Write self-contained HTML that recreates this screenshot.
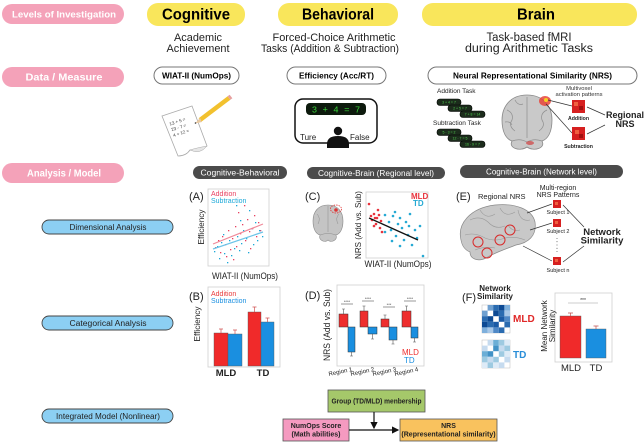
<!DOCTYPE html>
<html><head><meta charset="utf-8">
<style>
html,body{margin:0;padding:0;background:#fff;}
svg{display:block;font-family:"Liberation Sans",Arial,sans-serif;}
</style></head><body>
<svg width="644" height="443" viewBox="0 0 644 443" xmlns="http://www.w3.org/2000/svg">
<defs>
<marker id="ah" markerWidth="6" markerHeight="6" refX="5" refY="3" orient="auto"><path d="M0,0 L6,3 L0,6 Z" fill="#111"/></marker>
</defs>
<rect width="644" height="443" fill="#fff"/>

<!-- Left pink labels -->
<rect x="2" y="4" width="122" height="20" rx="10" fill="#f4a2b9"/>
<text x="64" y="17.5" text-anchor="middle" fill="#fff" font-weight="bold" font-size="9.5" textLength="104" lengthAdjust="spacingAndGlyphs">Levels of Investigation</text>
<rect x="2" y="67" width="122" height="20" rx="10" fill="#f4a2b9"/>
<text x="64" y="80.5" text-anchor="middle" fill="#fff" font-weight="bold" font-size="10" textLength="77" lengthAdjust="spacingAndGlyphs">Data / Measure</text>
<rect x="2" y="163" width="122" height="20" rx="10" fill="#f4a2b9"/>
<text x="64" y="176.5" text-anchor="middle" fill="#fff" font-weight="bold" font-size="10" textLength="74" lengthAdjust="spacingAndGlyphs">Analysis / Model</text>

<!-- Yellow headers -->
<rect x="147" y="3" width="98" height="23" rx="11" fill="#f9e65b"/>
<text x="196" y="19.5" text-anchor="middle" font-weight="bold" font-size="16" textLength="68" lengthAdjust="spacingAndGlyphs">Cognitive</text>
<rect x="278" y="3" width="120" height="23" rx="11" fill="#f9e65b"/>
<text x="338" y="19.5" text-anchor="middle" font-weight="bold" font-size="16" textLength="72" lengthAdjust="spacingAndGlyphs">Behavioral</text>
<rect x="422" y="3" width="215" height="23" rx="11" fill="#f9e65b"/>
<text x="536" y="19.5" text-anchor="middle" font-weight="bold" font-size="16" textLength="38" lengthAdjust="spacingAndGlyphs">Brain</text>

<!-- Subtitles -->
<g font-size="11" fill="#222" text-anchor="middle">
<text x="198" y="41" textLength="48" lengthAdjust="spacingAndGlyphs">Academic</text>
<text x="198" y="52" textLength="63" lengthAdjust="spacingAndGlyphs">Achievement</text>
<text x="334" y="41" textLength="123" lengthAdjust="spacingAndGlyphs">Forced-Choice Arithmetic</text>
<text x="330" y="52" textLength="138" lengthAdjust="spacingAndGlyphs">Tasks (Addition &amp; Subtraction)</text>
<text x="529" y="41" font-size="11.5" textLength="85" lengthAdjust="spacingAndGlyphs">Task-based fMRI</text>
<text x="529" y="52" font-size="11.5" textLength="128" lengthAdjust="spacingAndGlyphs">during Arithmetic Tasks</text>
</g>

<!-- Measure outline pills -->
<rect x="154" y="67" width="85" height="17" rx="8.5" fill="#fff" stroke="#777" stroke-width="1"/>
<text x="196.5" y="78.5" text-anchor="middle" font-weight="bold" font-size="8.5" textLength="69" lengthAdjust="spacingAndGlyphs">WIAT-II (NumOps)</text>
<rect x="287" y="67" width="99" height="17" rx="8.5" fill="#fff" stroke="#777" stroke-width="1"/>
<text x="336.5" y="78.5" text-anchor="middle" font-weight="bold" font-size="8.5" textLength="75" lengthAdjust="spacingAndGlyphs">Efficiency (Acc/RT)</text>
<rect x="428" y="67" width="209" height="17" rx="8.5" fill="#fff" stroke="#777" stroke-width="1"/>
<text x="532.5" y="78.5" text-anchor="middle" font-weight="bold" font-size="8.5" textLength="159" lengthAdjust="spacingAndGlyphs">Neural Representational Similarity (NRS)</text>

<!-- Paper & pencil -->
<path d="M162,116 L192,106 L207,146 Q200,152 190,150 Q186,156 178,156 Z" fill="#fff" stroke="#aaa" stroke-width="0.8"/>
<path d="M190,150 Q196,148 207,146 Q200,155 190,150Z" fill="#e6e6e6" stroke="#aaa" stroke-width="0.5"/>
<g font-size="4.5" fill="#333" transform="rotate(-18 175 125)">
<text x="170" y="124">13 + 5 =</text>
<text x="170" y="130">23 - 7 =</text>
<text x="170" y="136">4 + 12 =</text>
</g>
<line x1="229" y1="98" x2="200" y2="120" stroke="#f2c12e" stroke-width="4.5" stroke-linecap="butt"/>
<line x1="229" y1="98" x2="231" y2="96.5" stroke="#e7a0a0" stroke-width="4.5"/>
<path d="M200,118 L202,122 L195,123.5 Z" fill="#e9c9a0"/>
<circle cx="195.5" cy="123" r="0.8" fill="#333"/>

<!-- Screen icon -->
<rect x="295" y="99" width="82" height="44" rx="8" fill="#fff" stroke="#111" stroke-width="1.5"/>
<rect x="306" y="103" width="60" height="12" rx="4" fill="#0d1a0d"/>
<text x="336" y="112.5" text-anchor="middle" font-size="9" fill="#39d339" font-family="Liberation Mono, monospace">3 + 4 = 7</text>
<text x="300" y="140" font-size="8" fill="#222">Ture</text>
<text x="350" y="140" font-size="8" fill="#222">False</text>
<circle cx="338" cy="131" r="4.2" fill="#111"/>
<path d="M327,148 L327,144 Q327,136 338,136 Q349,136 349,144 L349,148 Z" fill="#111"/>

<!-- Top-right brain task area -->
<text x="437" y="93" font-size="6.5" fill="#222">Addition Task</text>
<g stroke="#000" stroke-width="0.6" fill="#1c2c1c">
<rect x="437" y="99" width="24" height="6.5" rx="3"/>
<rect x="448" y="105" width="24" height="6.5" rx="3"/>
<rect x="460" y="111" width="25" height="6.5" rx="3"/>
<rect x="437" y="129" width="24" height="6.5" rx="3"/>
<rect x="448" y="135" width="24" height="6.5" rx="3"/>
<rect x="460" y="141" width="25" height="6.5" rx="3"/>
</g>
<g font-size="3.5" fill="#4fd04f" text-anchor="middle">
<text x="449" y="103.5">3 + 4 = 7</text><text x="460" y="109.5">2 + 5 = 7</text><text x="472.5" y="115.5">7 + 8 = 14</text>
<text x="449" y="133.5">5 - 3 = 2</text><text x="460" y="139.5">12 - 7 = 5</text><text x="472.5" y="145.5">16 - 9 = 7</text>
</g>
<text x="433" y="125" font-size="6.5" fill="#222">Subtraction Task</text>

<path d="M527,95 C510,95 502,107 502,120 C502,132 506,139 512,141 C508,148 520,152 527,147 C534,152 546,148 542,141 C548,139 552,132 552,120 C552,107 544,95 527,95Z" fill="#c9c9c9" stroke="#8a8a8a" stroke-width="0.8"/>
<g fill="none" stroke="#8f8f8f" stroke-width="0.7">
<path d="M527,97 L527,138"/><path d="M507,110 Q514,113 512,120 Q508,126 515,131"/><path d="M547,110 Q540,113 542,120 Q546,126 539,131"/>
<path d="M512,141 Q520,138 527,142 Q534,138 542,141"/><path d="M515,100 Q518,106 523,104"/><path d="M505,122 Q510,121 512,125"/>
</g>
<ellipse cx="545" cy="101" rx="6" ry="5" fill="#e8443a" opacity="0.85"/>
<circle cx="546" cy="100" r="2" fill="#f5d020"/>
<ellipse cx="530" cy="143" rx="4" ry="2" fill="#d04040" opacity="0.7"/>
<text x="579" y="90" text-anchor="middle" font-size="5.8" fill="#333">Multivoxel</text>
<text x="579" y="96" text-anchor="middle" font-size="5.8" fill="#333">activation patterns</text>
<line x1="548" y1="100" x2="572" y2="106" stroke="#333" stroke-width="0.7"/>
<line x1="546" y1="104" x2="572" y2="133" stroke="#333" stroke-width="0.7"/>
<rect x="572" y="100" width="13" height="13" fill="#d62020"/>
<rect x="574" y="102" width="4" height="4" fill="#f06040"/><rect x="579" y="106" width="4" height="4" fill="#a01010"/>
<rect x="572" y="127" width="13" height="13" fill="#d62020"/>
<rect x="575" y="130" width="4" height="4" fill="#f06040"/><rect x="579" y="134" width="4" height="4" fill="#a01010"/>
<text x="578.5" y="120" text-anchor="middle" font-size="5.2" font-weight="bold" fill="#222">Addition</text>
<text x="578.5" y="148" text-anchor="middle" font-size="5.2" font-weight="bold" fill="#222">Subtraction</text>
<line x1="587" y1="107" x2="605" y2="115" stroke="#333" stroke-width="0.7"/>
<line x1="587" y1="134" x2="605" y2="125" stroke="#333" stroke-width="0.7"/>
<text x="625" y="118" text-anchor="middle" font-size="9" font-weight="bold" fill="#222">Regional</text>
<text x="625" y="127" text-anchor="middle" font-size="9" font-weight="bold" fill="#222">NRS</text>

<!-- Dark analysis pills -->
<rect x="193" y="166" width="94" height="13" rx="6.5" fill="#4b4b4b"/>
<text x="240" y="175.5" text-anchor="middle" font-size="8" fill="#fff" textLength="79" lengthAdjust="spacingAndGlyphs">Cognitive-Behavioral</text>
<rect x="307" y="167" width="138" height="12" rx="6" fill="#4b4b4b"/>
<text x="376" y="176" text-anchor="middle" font-size="8" fill="#fff" textLength="116" lengthAdjust="spacingAndGlyphs">Cognitive-Brain (Regional level)</text>
<rect x="460" y="165" width="163" height="13" rx="6.5" fill="#4b4b4b"/>
<text x="541.5" y="174.5" text-anchor="middle" font-size="8" fill="#fff" textLength="111" lengthAdjust="spacingAndGlyphs">Cognitive-Brain (Network level)</text>

<!-- Blue analysis pills -->
<rect x="42" y="220" width="131" height="14" rx="7" fill="#8ccff3" stroke="#444" stroke-width="0.9"/>
<text x="108" y="230" text-anchor="middle" font-size="8" fill="#222" textLength="77" lengthAdjust="spacingAndGlyphs">Dimensional Analysis</text>
<rect x="42" y="316" width="131" height="14" rx="7" fill="#8ccff3" stroke="#444" stroke-width="0.9"/>
<text x="108" y="326" text-anchor="middle" font-size="8" fill="#222" textLength="77" lengthAdjust="spacingAndGlyphs">Categorical Analysis</text>
<rect x="42" y="409" width="131" height="14" rx="7" fill="#8ccff3" stroke="#444" stroke-width="0.9"/>
<text x="108" y="419" text-anchor="middle" font-size="8" fill="#222" textLength="104" lengthAdjust="spacingAndGlyphs">Integrated Model (Nonlinear)</text>

<!-- Panel A -->
<text x="189" y="200" font-size="11" fill="#222">(A)</text>
<rect x="208" y="189" width="61" height="77" fill="#fff" stroke="#cfcfcf" stroke-width="0.8"/>
<text x="211" y="196" font-size="7" fill="#e84060">Addition</text>
<text x="211" y="203" font-size="7" fill="#1ba8d8">Subtraction</text>
<text transform="translate(204,227) rotate(-90)" text-anchor="middle" font-size="8.5" fill="#222" textLength="35" lengthAdjust="spacingAndGlyphs">Efficiency</text>
<text x="245" y="279" text-anchor="middle" font-size="9" fill="#222" textLength="66" lengthAdjust="spacingAndGlyphs">WIAT-II (NumOps)</text>
<g fill="#e84060">
<rect x="215" y="247" width="1.3" height="1.3"/><rect x="218" y="240" width="1.3" height="1.3"/><rect x="220" y="252" width="1.3" height="1.3"/><rect x="222" y="236" width="1.3" height="1.3"/><rect x="225" y="244" width="1.3" height="1.3"/><rect x="228" y="230" width="1.3" height="1.3"/><rect x="230" y="249" width="1.3" height="1.3"/><rect x="232" y="238" width="1.3" height="1.3"/><rect x="235" y="226" width="1.3" height="1.3"/><rect x="236" y="246" width="1.3" height="1.3"/><rect x="240" y="233" width="1.3" height="1.3"/><rect x="242" y="224" width="1.3" height="1.3"/><rect x="245" y="240" width="1.3" height="1.3"/><rect x="247" y="219" width="1.3" height="1.3"/><rect x="249" y="231" width="1.3" height="1.3"/><rect x="252" y="228" width="1.3" height="1.3"/><rect x="254" y="215" width="1.3" height="1.3"/><rect x="256" y="236" width="1.3" height="1.3"/><rect x="258" y="222" width="1.3" height="1.3"/><rect x="260" y="230" width="1.3" height="1.3"/><rect x="226" y="256" width="1.3" height="1.3"/><rect x="233" y="259" width="1.3" height="1.3"/><rect x="238" y="212" width="1.3" height="1.3"/><rect x="244" y="205" width="1.3" height="1.3"/><rect x="250" y="248" width="1.3" height="1.3"/>
</g>
<g fill="#1ba8d8">
<rect x="214" y="251" width="1.3" height="1.3"/><rect x="217" y="246" width="1.3" height="1.3"/><rect x="219" y="258" width="1.3" height="1.3"/><rect x="221" y="242" width="1.3" height="1.3"/><rect x="224" y="253" width="1.3" height="1.3"/><rect x="227" y="262" width="1.3" height="1.3"/><rect x="229" y="240" width="1.3" height="1.3"/><rect x="231" y="255" width="1.3" height="1.3"/><rect x="234" y="248" width="1.3" height="1.3"/><rect x="237" y="236" width="1.3" height="1.3"/><rect x="239" y="250" width="1.3" height="1.3"/><rect x="241" y="243" width="1.3" height="1.3"/><rect x="243" y="230" width="1.3" height="1.3"/><rect x="246" y="238" width="1.3" height="1.3"/><rect x="248" y="252" width="1.3" height="1.3"/><rect x="251" y="228" width="1.3" height="1.3"/><rect x="253" y="244" width="1.3" height="1.3"/><rect x="255" y="222" width="1.3" height="1.3"/><rect x="257" y="240" width="1.3" height="1.3"/><rect x="259" y="230" width="1.3" height="1.3"/><rect x="262" y="236" width="1.3" height="1.3"/><rect x="236" y="205" width="1.3" height="1.3"/><rect x="249" y="210" width="1.3" height="1.3"/><rect x="223" y="234" width="1.3" height="1.3"/><rect x="240" y="220" width="1.3" height="1.3"/>
</g>
<line x1="213" y1="244" x2="263" y2="224" stroke="#f08a9a" stroke-width="1.2"/>
<line x1="213" y1="249" x2="263" y2="232" stroke="#6cc4e8" stroke-width="1.2"/>

<!-- Panel B -->
<text x="189" y="300" font-size="11" fill="#222">(B)</text>
<rect x="208" y="287" width="72" height="80" fill="#fff" stroke="#cfcfcf" stroke-width="0.8"/>
<text x="211" y="296" font-size="7" fill="#e83a3a">Addition</text>
<text x="211" y="303" font-size="7" fill="#1a8fe0">Subtraction</text>
<text transform="translate(200,324) rotate(-90)" text-anchor="middle" font-size="8.5" fill="#222" textLength="35" lengthAdjust="spacingAndGlyphs">Efficiency</text>
<rect x="214" y="333" width="14" height="33" fill="#f02a2a" stroke="#555" stroke-width="0.4"/>
<rect x="228" y="334" width="14" height="32" fill="#1a8fe0" stroke="#555" stroke-width="0.4"/>
<rect x="248" y="312" width="13" height="54" fill="#f02a2a" stroke="#555" stroke-width="0.4"/>
<rect x="261" y="322" width="13" height="44" fill="#1a8fe0" stroke="#555" stroke-width="0.4"/>
<g stroke="#d05050" stroke-width="0.7" fill="none">
<path d="M221,333 V329 M219,329 H223"/><path d="M235,334 V330 M233,330 H237"/><path d="M254.5,312 V307 M252.5,307 H256.5"/><path d="M267.5,322 V318 M265.5,318 H269.5"/>
</g>
<text x="226" y="376" text-anchor="middle" font-size="9.5" font-weight="bold" fill="#222">MLD</text>
<text x="263" y="376" text-anchor="middle" font-size="9.5" font-weight="bold" fill="#222">TD</text>

<!-- Panel C -->
<text x="305" y="200" font-size="11" fill="#222">(C)</text>
<path d="M328,205 C318,205 313,212 313,221 C313,229 316,234 320,235 C318,241 326,243 328,240 C330,243 338,241 336,235 C340,234 343,229 343,221 C343,212 338,205 328,205Z" fill="#c4c4c4" stroke="#888" stroke-width="0.6"/>
<g fill="none" stroke="#8e8e8e" stroke-width="0.5"><path d="M328,206 V232"/><path d="M317,214 Q321,218 318,224"/><path d="M339,214 Q335,218 338,224"/><path d="M320,235 Q328,232 336,235"/></g>
<ellipse cx="336" cy="209" rx="5.5" ry="4" fill="none" stroke="#e03030" stroke-width="0.8" stroke-dasharray="1.5,1"/>
<circle cx="336" cy="210" r="1.8" fill="#d33"/>
<rect x="366" y="192" width="62" height="66" fill="#fff" stroke="#cfcfcf" stroke-width="0.8"/>
<text transform="translate(361,225) rotate(-90)" text-anchor="middle" font-size="8.5" fill="#222" textLength="68" lengthAdjust="spacingAndGlyphs">NRS (Add vs. Sub)</text>
<text x="398" y="267" text-anchor="middle" font-size="9" fill="#222" textLength="67" lengthAdjust="spacingAndGlyphs">WIAT-II (NumOps)</text>
<text x="411" y="199" font-size="8" font-weight="bold" fill="#e8323c">MLD</text>
<text x="413" y="206" font-size="8" font-weight="bold" fill="#25a9d3">TD</text>
<g fill="#e8323c">
<circle cx="369" cy="204" r="1.3"/><circle cx="371" cy="216" r="1.3"/><circle cx="372" cy="220" r="1.3"/><circle cx="374" cy="214" r="1.3"/><circle cx="375" cy="218" r="1.3"/><circle cx="376" cy="224" r="1.3"/><circle cx="377" cy="218" r="1.3"/><circle cx="379" cy="215" r="1.3"/><circle cx="380" cy="228" r="1.3"/><circle cx="381" cy="221" r="1.3"/><circle cx="382" cy="232" r="1.3"/><circle cx="378" cy="210" r="1.3"/><circle cx="374" cy="226" r="1.3"/>
</g>
<g fill="#25a9d3">
<circle cx="385" cy="215" r="1.3"/><circle cx="389" cy="222" r="1.3"/><circle cx="391" cy="230" r="1.3"/><circle cx="393" cy="216" r="1.3"/><circle cx="396" cy="236" r="1.3"/><circle cx="398" cy="224" r="1.3"/><circle cx="400" cy="218" r="1.3"/><circle cx="402" cy="228" r="1.3"/><circle cx="404" cy="240" r="1.3"/><circle cx="406" cy="222" r="1.3"/><circle cx="408" cy="235" r="1.3"/><circle cx="410" cy="214" r="1.3"/><circle cx="412" cy="245" r="1.3"/><circle cx="415" cy="230" r="1.3"/><circle cx="417" cy="238" r="1.3"/><circle cx="420" cy="226" r="1.3"/><circle cx="423" cy="256" r="1.3"/><circle cx="392" cy="241" r="1.3"/><circle cx="400" cy="246" r="1.3"/><circle cx="395" cy="212" r="1.3"/><circle cx="385" cy="232" r="1.3"/><circle cx="409" cy="226" r="1.3"/>
</g>
<line x1="369" y1="218" x2="418" y2="240" stroke="#111" stroke-width="1.3"/>

<!-- Panel D -->
<text x="305" y="299" font-size="11" fill="#222">(D)</text>
<rect x="337" y="285" width="87" height="81" fill="#fff" stroke="#cfcfcf" stroke-width="0.8"/>
<text transform="translate(330,325) rotate(-90)" text-anchor="middle" font-size="9" fill="#222" textLength="72" lengthAdjust="spacingAndGlyphs">NRS (Add vs. Sub)</text>
<g stroke="#333" stroke-width="0.5">
<rect x="339" y="314" width="9" height="13" fill="#ee2e2e"/><rect x="348" y="327" width="7" height="25" fill="#1a8fe0"/>
<rect x="360" y="311" width="8" height="16" fill="#ee2e2e"/><rect x="368" y="327" width="9" height="7" fill="#1a8fe0"/>
<rect x="381" y="319" width="8" height="8" fill="#ee2e2e"/><rect x="389" y="327" width="8" height="13" fill="#1a8fe0"/>
<rect x="402" y="311" width="9" height="16" fill="#ee2e2e"/><rect x="411" y="327" width="7" height="11" fill="#1a8fe0"/>
</g>
<g stroke="#555" stroke-width="0.6" fill="none">
<path d="M343.5,314 V309 M342,309 H345"/><path d="M351.5,352 V356 M350,356 H353"/>
<path d="M364,311 V306 M362.5,306 H365.5"/><path d="M372.5,334 V339 M371,339 H374"/>
<path d="M385,319 V315 M383.5,315 H386.5"/><path d="M393,340 V344 M391.5,344 H394.5"/>
<path d="M406.5,311 V306 M405,306 H408"/><path d="M414.5,338 V342 M413,342 H416"/>
<path d="M341,304 H353"/><path d="M362,301 H374"/><path d="M383,307 H395"/><path d="M404,301 H416"/>
</g>
<g font-size="4" fill="#333" text-anchor="middle">
<text x="347" y="303">****</text><text x="368" y="300">****</text><text x="389" y="306">***</text><text x="410" y="300">****</text>
</g>
<text x="402" y="355" font-size="8" fill="#ee2e2e">MLD</text>
<text x="404" y="363" font-size="8" fill="#1a8fe0">TD</text>
<g font-size="6" fill="#222">
<text transform="translate(329,376) rotate(-12)">Region 1</text>
<text transform="translate(351,376) rotate(-12)">Region 2</text>
<text transform="translate(373,376) rotate(-12)">Region 3</text>
<text transform="translate(395,376) rotate(-12)">Region 4</text>
</g>

<!-- Panel E -->
<text x="456" y="200" font-size="11" fill="#222">(E)</text>
<text x="478" y="199" font-size="7.5" fill="#222">Regional NRS</text>
<path d="M461,240 C457,224 470,208 495,205 C515,203 532,209 535,222 C537,236 528,243 516,245 C506,249 496,252 486,258 C478,262 470,259 470,252 C465,250 462,246 461,240Z" fill="#c8c8c8" stroke="#8a8a8a" stroke-width="0.7"/>
<g fill="none" stroke="#9a9a9a" stroke-width="0.6">
<path d="M470,220 Q480,215 488,222 Q495,230 505,226"/><path d="M480,210 Q486,220 495,214"/><path d="M500,208 Q505,218 515,212"/><path d="M518,210 Q520,222 530,220"/>
<path d="M465,235 Q475,232 485,238 Q495,242 505,238 Q515,236 525,240"/><path d="M475,250 Q485,246 495,248"/><path d="M508,225 Q512,232 520,230"/>
</g>
<g fill="none" stroke="#d82a2a" stroke-width="1">
<circle cx="478" cy="242" r="5"/><circle cx="500" cy="240" r="5"/><circle cx="510" cy="230" r="5"/><circle cx="487" cy="253" r="5"/>
</g>
<text x="558" y="190" text-anchor="middle" font-size="7" fill="#222">Multi-region</text>
<text x="558" y="197" text-anchor="middle" font-size="7" fill="#222">NRS Patterns</text>
<line x1="527" y1="213" x2="552" y2="204" stroke="#333" stroke-width="0.7"/>
<line x1="530" y1="230" x2="552" y2="223" stroke="#333" stroke-width="0.7"/>
<line x1="523" y1="246" x2="552" y2="261" stroke="#333" stroke-width="0.7"/>
<rect x="553" y="200" width="8" height="8" fill="#d62020"/><rect x="555" y="202" width="3" height="3" fill="#f06040"/>
<rect x="553" y="219" width="8" height="8" fill="#d62020"/><rect x="555" y="221" width="3" height="3" fill="#f06040"/>
<rect x="553" y="257" width="8" height="8" fill="#d62020"/><rect x="555" y="259" width="3" height="3" fill="#f06040"/>
<g font-size="5.5" fill="#222" text-anchor="middle">
<text x="558" y="214">Subject 1</text><text x="558" y="233">Subject 2</text><text x="558" y="272">Subject n</text>
</g>
<line x1="557" y1="238" x2="557" y2="253" stroke="#333" stroke-width="0.8" stroke-dasharray="0.8,2.5"/>
<line x1="563" y1="205" x2="584" y2="227" stroke="#333" stroke-width="0.7"/>
<line x1="563" y1="262" x2="584" y2="246" stroke="#333" stroke-width="0.7"/>
<text x="602" y="235" text-anchor="middle" font-size="9.5" font-weight="bold" fill="#222">Network</text>
<text x="602" y="243.5" text-anchor="middle" font-size="9.5" font-weight="bold" fill="#222">Similarity</text>

<!-- Panel F -->
<text x="462" y="301" font-size="11" fill="#222">(F)</text>
<text x="495" y="291" text-anchor="middle" font-size="8" font-weight="bold" fill="#222">Network</text>
<text x="495" y="299" text-anchor="middle" font-size="8" font-weight="bold" fill="#222">Similarity</text>
<g>
<rect x="482" y="305" width="28" height="28" fill="#fff" stroke="#bbb" stroke-width="0.5"/>
<rect x="487.6" y="305" width="5.6" height="5.6" fill="#6fa0d0"/><rect x="493.2" y="305" width="5.6" height="5.6" fill="#2a6bb0"/><rect x="498.8" y="305" width="5.6" height="5.6" fill="#0d4a94"/><rect x="504.4" y="305" width="5.6" height="5.6" fill="#7fb0dc"/>
<rect x="482" y="310.6" width="5.6" height="5.6" fill="#6fa0d0"/><rect x="493.2" y="310.6" width="5.6" height="5.6" fill="#0d4a94"/><rect x="498.8" y="310.6" width="5.6" height="5.6" fill="#2a6bb0"/><rect x="504.4" y="310.6" width="5.6" height="5.6" fill="#a8c8e8"/>
<rect x="482" y="316.2" width="5.6" height="5.6" fill="#2a6bb0"/><rect x="487.6" y="316.2" width="5.6" height="5.6" fill="#0d4a94"/><rect x="498.8" y="316.2" width="5.6" height="5.6" fill="#1a5aa5"/><rect x="504.4" y="316.2" width="5.6" height="5.6" fill="#4f88c6"/>
<rect x="482" y="321.8" width="5.6" height="5.6" fill="#0d4a94"/><rect x="487.6" y="321.8" width="5.6" height="5.6" fill="#2a6bb0"/><rect x="493.2" y="321.8" width="5.6" height="5.6" fill="#1a5aa5"/><rect x="504.4" y="321.8" width="5.6" height="5.6" fill="#2a6bb0"/>
<rect x="482" y="327.4" width="5.6" height="5.6" fill="#7fb0dc"/><rect x="487.6" y="327.4" width="5.6" height="5.6" fill="#a8c8e8"/><rect x="493.2" y="327.4" width="5.6" height="5.6" fill="#4f88c6"/><rect x="498.8" y="327.4" width="5.6" height="5.6" fill="#2a6bb0"/>
</g>
<text x="513" y="322" font-size="10" font-weight="bold" fill="#e02828">MLD</text>
<g>
<rect x="482" y="340" width="28" height="28" fill="#fff" stroke="#bbb" stroke-width="0.5"/>
<rect x="487.6" y="340" width="5.6" height="5.6" fill="#c6dbef"/><rect x="493.2" y="340" width="5.6" height="5.6" fill="#6baed6"/><rect x="498.8" y="340" width="5.6" height="5.6" fill="#9ecae1"/><rect x="504.4" y="340" width="5.6" height="5.6" fill="#deebf7"/>
<rect x="482" y="345.6" width="5.6" height="5.6" fill="#c6dbef"/><rect x="493.2" y="345.6" width="5.6" height="5.6" fill="#4292c6"/><rect x="498.8" y="345.6" width="5.6" height="5.6" fill="#c6dbef"/><rect x="504.4" y="345.6" width="5.6" height="5.6" fill="#9ecae1"/>
<rect x="482" y="351.2" width="5.6" height="5.6" fill="#6baed6"/><rect x="487.6" y="351.2" width="5.6" height="5.6" fill="#4292c6"/><rect x="498.8" y="351.2" width="5.6" height="5.6" fill="#9ecae1"/><rect x="504.4" y="351.2" width="5.6" height="5.6" fill="#deebf7"/>
<rect x="482" y="356.8" width="5.6" height="5.6" fill="#9ecae1"/><rect x="487.6" y="356.8" width="5.6" height="5.6" fill="#c6dbef"/><rect x="493.2" y="356.8" width="5.6" height="5.6" fill="#9ecae1"/><rect x="504.4" y="356.8" width="5.6" height="5.6" fill="#c6dbef"/>
<rect x="482" y="362.4" width="5.6" height="5.6" fill="#deebf7"/><rect x="487.6" y="362.4" width="5.6" height="5.6" fill="#9ecae1"/><rect x="493.2" y="362.4" width="5.6" height="5.6" fill="#deebf7"/><rect x="498.8" y="362.4" width="5.6" height="5.6" fill="#c6dbef"/>
</g>
<text x="513" y="358" font-size="10" font-weight="bold" fill="#2a8ed8">TD</text>
<rect x="555" y="293" width="57" height="69" fill="#fff" stroke="#cfcfcf" stroke-width="0.8"/>
<text transform="translate(547,326) rotate(-90)" text-anchor="middle" font-size="8" fill="#222">Mean Network</text>
<text transform="translate(555,326) rotate(-90)" text-anchor="middle" font-size="8" fill="#222">Similarity</text>
<rect x="560" y="316" width="21" height="42" fill="#f02a2a" stroke="#555" stroke-width="0.4"/>
<rect x="586" y="329" width="20" height="29" fill="#1a8fe0" stroke="#555" stroke-width="0.4"/>
<g stroke="#c05050" stroke-width="0.7" fill="none"><path d="M570.5,316 V313 M568,313 H573"/><path d="M596,329 V326 M593.5,326 H598.5"/></g>
<line x1="568" y1="303" x2="598" y2="303" stroke="#999" stroke-width="0.6"/>
<text x="583" y="302" text-anchor="middle" font-size="5" fill="#333">***</text>
<text x="571" y="371" text-anchor="middle" font-size="9.5" fill="#222">MLD</text>
<text x="596" y="371" text-anchor="middle" font-size="9.5" fill="#222">TD</text>

<!-- Integrated model -->
<rect x="328" y="390" width="97" height="22" fill="#a5c86a" stroke="#555" stroke-width="0.8"/>
<text x="376.5" y="403.5" text-anchor="middle" font-size="7.5" font-weight="bold" fill="#222" textLength="90" lengthAdjust="spacingAndGlyphs">Group (TD/MLD) menbership</text>
<rect x="283" y="419" width="66" height="22" fill="#f59ac0" stroke="#555" stroke-width="0.8"/>
<text x="316" y="428" text-anchor="middle" font-size="7" font-weight="bold" fill="#222">NumOps Score</text>
<text x="316" y="436.5" text-anchor="middle" font-size="7" font-weight="bold" fill="#222">(Math abilities)</text>
<rect x="400" y="419" width="97" height="22" fill="#f9c25e" stroke="#555" stroke-width="0.8"/>
<text x="448.5" y="428" text-anchor="middle" font-size="7" font-weight="bold" fill="#222">NRS</text>
<text x="448.5" y="436.5" text-anchor="middle" font-size="7" font-weight="bold" fill="#222">(Representational similarity)</text>
<line x1="349" y1="430" x2="398" y2="430" stroke="#111" stroke-width="1.2" marker-end="url(#ah)"/>
<line x1="374" y1="412" x2="374" y2="428" stroke="#111" stroke-width="1.2" marker-end="url(#ah)"/>
</svg>
</body></html>
